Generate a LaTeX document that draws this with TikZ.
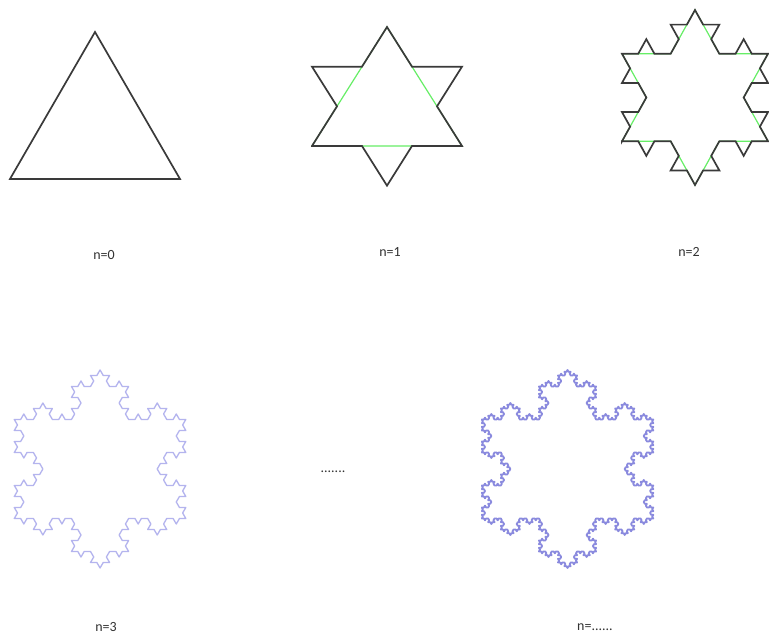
\documentclass[tikz,border=0pt]{standalone}
\usepackage{fontspec}
\setmainfont{Carlito}
\usetikzlibrary{lindenmayersystems}
\pgfdeclarelindenmayersystem{KochFlake}{\rule{F -> F-F++F-F}}
\definecolor{edgegray}{HTML}{3A3A3A}
\definecolor{midgreen}{HTML}{66EE66}
\definecolor{paleblue}{HTML}{B4B4EE}
\definecolor{flakeblue}{HTML}{8A8ADE}
\definecolor{labelgray}{HTML}{333333}
\tikzset{
  blackedge/.style={draw=edgegray, line width=1.7pt, line join=miter},
  greenedge/.style={draw=midgreen, line width=1.2pt},
  lbl/.style={text=labelgray, font=\fontsize{14}{16}\selectfont, inner sep=0pt}
}
\begin{document}
\begin{tikzpicture}[x=1pt,y=1pt]
\useasboundingbox (0,0) rectangle (769,636);
\fill[white] (0,0) rectangle (769,636);

% n=0
\draw[blackedge] (10,457) -- (180,457) -- (95,604) -- cycle;

% n=1
\begin{scope}[shift={(312,490)}, yscale=0.916]
  \draw[greenedge] (0,0) -- (150,0) -- (75,129.9) -- cycle;
  \draw[blackedge, lindenmayer system={KochFlake, axiom=F++F++F, order=1, step=50pt, angle=60}] (0,0) lindenmayer system -- cycle;
\end{scope}

% n=2
\begin{scope}[shift={(622,494.75)}, yscale=1.038]
  \draw[greenedge, lindenmayer system={KochFlake, axiom=F++F++F, order=1, step=48.667pt, angle=60}] (0,0) lindenmayer system -- cycle;
  \draw[blackedge, lindenmayer system={KochFlake, axiom=F++F++F, order=2, step=16.222pt, angle=60}] (0,0) lindenmayer system -- cycle;
\end{scope}

% n=3
\begin{scope}[shift={(14.3,117.5)}]
  \draw[draw=paleblue, line width=1.3pt, line join=round, lindenmayer system={KochFlake, axiom=F++F++F, order=3, step=6.352pt, angle=60}] (0,0) lindenmayer system -- cycle;
\end{scope}

% n=......
\begin{scope}[shift={(481.8,117.5)}]
  \draw[draw=flakeblue, line width=1.8pt, line join=round, lindenmayer system={KochFlake, axiom=F++F++F, order=4, step=2.117pt, angle=60}] (0,0) lindenmayer system -- cycle;
\end{scope}

% labels
\node[lbl] (l0) at (104,381) {n=0};
\node[lbl] (l1) at (390,384) {n=1};
\node[lbl] (l2) at (689,384) {n=2};
\node[lbl] (l3) at (106,9) {n=3};
\node[lbl] (ldots) at (333,164) {.......};
\node[lbl] (linf) at (595,9) {n=......};
\end{tikzpicture}
\end{document}
